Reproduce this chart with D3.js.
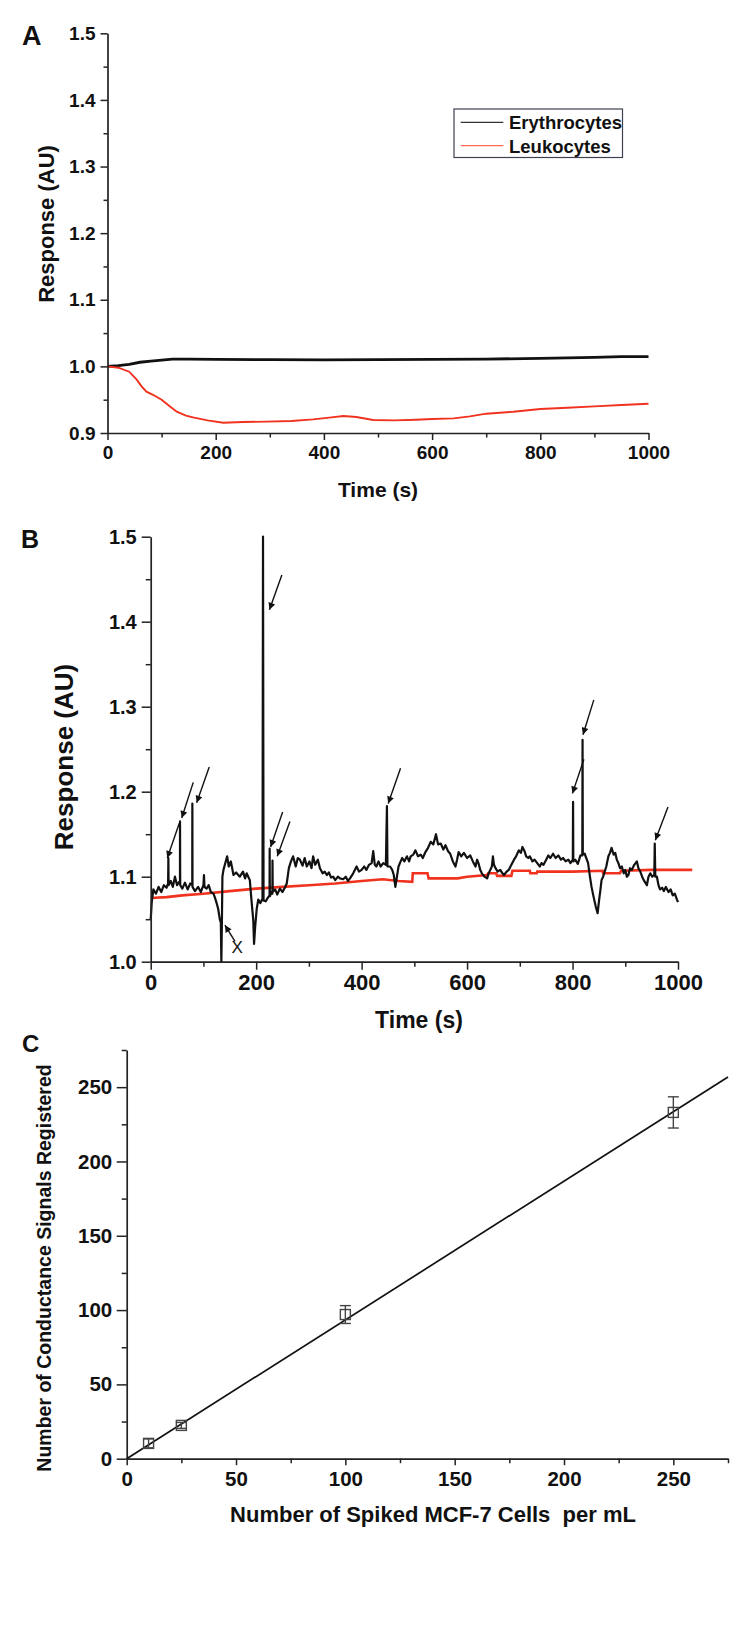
<!DOCTYPE html>
<html>
<head>
<meta charset="utf-8">
<script src="https://cdn.jsdelivr.net/npm/d3@7"></script>
<style>
  html, body { margin: 0; padding: 0; background: #fff; }
  svg { display: block; }
  text { font-family: "Liberation Sans", Arial, Helvetica, sans-serif; font-weight: bold; fill: #111; }
  .axis path.domain { stroke: #222; stroke-width: 1.7; }
  .axis line { stroke: #222; stroke-width: 1.5; }
  .axis text { fill: #111; }
</style>
</head>
<body>
<svg id="fig" width="741" height="1640"></svg>
<script>
// ---------------- Panel A data ----------------
const timeTicksMajor = [0, 200, 400, 600, 800, 1000];
const timeTicksMinor = [100, 300, 500, 700, 900];
const responseTicksA = [0.9, 1.0, 1.1, 1.2, 1.3, 1.4, 1.5];
const responseMinorA = [0.95, 1.05, 1.15, 1.25, 1.35, 1.45];
const legendLabels = ["Erythrocytes", "Leukocytes"];

const erythrocytesA = [
  [0,1.0],[20,1.001],[40,1.003],[60,1.0062],[80,1.008],[100,1.0095],[120,1.011],[150,1.011],
  [200,1.0105],[300,1.0102],[400,1.0098],[500,1.0102],[600,1.0106],[700,1.011],[800,1.012],
  [900,1.0135],[950,1.0145],[1000,1.0145]
];
const leukocytesA = [
  [0,1.0],[20,0.998],[40,0.992],[54,0.98],[63,0.97],[72,0.962],[85,0.957],[100,0.95],[115,0.94],
  [128,0.932],[145,0.926],[160,0.923],[185,0.919],[214,0.9155],[250,0.9165],[294,0.917],[340,0.918],
  [380,0.9205],[410,0.923],[436,0.9255],[460,0.924],[491,0.9195],[530,0.919],[570,0.92],[600,0.921],
  [640,0.922],[670,0.925],[700,0.929],[750,0.932],[800,0.936],[850,0.938],[900,0.94],[950,0.942],[1000,0.944]
];

// ---------------- Panel B data ----------------
const responseTicksB = [1.0, 1.1, 1.2, 1.3, 1.4, 1.5];
const responseMinorB = [1.05, 1.15, 1.25, 1.35, 1.45];
const signalB = [
  [0,1.05],[2,1.07],[5,1.085],[10,1.08],[15,1.088],[20,1.082],[25,1.09],[30,1.087],[33,1.092],[33.5,1.122],[34,1.09],
  [38,1.095],[42,1.088],[46,1.1],[50,1.09],[54,1.094],[55.5,1.092],[55.6,1.165],[56,1.09],[60,1.086],[65,1.093],
  [70,1.085],[75,1.092],[78.8,1.09],[79,1.186],[79.3,1.088],[84,1.083],[90,1.088],[95,1.082],[100,1.09],[101,1.102],
  [102,1.088],[106,1.086],[110,1.09],[114,1.082],[119,1.08],[122,1.075],[125,1.069],[128,1.062],[131,1.05],[133,1.046],
  [134,1.0],[135,1.045],[136,1.1],[138,1.108],[141,1.115],[145,1.124],[148,1.112],[152,1.118],[157,1.102],[162,1.105],
  [169,1.1],[175,1.106],[179,1.098],[182,1.104],[185,1.1],[188,1.096],[191,1.073],[194.5,1.049],[196,1.021],[198,1.04],
  [201,1.062],[204,1.073],[208,1.069],[212,1.074],[213,1.5],[214,1.072],[218,1.071],[222,1.075],[225.4,1.078],[225.6,1.133],
  [226,1.077],[229,1.082],[230.8,1.08],[231,1.119],[231.4,1.082],[236,1.085],[240,1.079],[245,1.086],[250,1.082],[255,1.088],
  [258,1.092],[262,1.11],[266,1.118],[270,1.124],[275,1.112],[279,1.122],[283,1.12],[288,1.113],[292,1.122],[296,1.112],
  [301,1.118],[305,1.11],[308,1.124],[312,1.114],[317,1.12],[321,1.11],[326,1.104],[330,1.106],[334,1.102],[338,1.105],
  [342,1.099],[346,1.1],[350,1.096],[355,1.1],[359,1.098],[365,1.097],[370,1.1],[374,1.095],[378,1.098],[384,1.104],
  [390.5,1.112],[395,1.106],[400,1.108],[405,1.112],[409,1.108],[414,1.114],[419,1.116],[422,1.13],[425,1.114],[428,1.112],
  [432,1.118],[436,1.112],[441,1.116],[446,1.114],[448,1.183],[449,1.112],[454,1.112],[458,1.108],[461,1.102],[464,1.088],
  [467,1.1],[470,1.112],[474,1.118],[477,1.122],[481,1.118],[486,1.124],[490,1.118],[493,1.124],[498,1.126],[502,1.131],
  [507,1.124],[512,1.126],[516,1.122],[521,1.129],[526,1.134],[531,1.141],[536,1.138],[541,1.15],[545,1.138],[550,1.139],
  [555,1.132],[559,1.137],[564,1.13],[568,1.127],[573,1.118],[578,1.112],[581,1.12],[584,1.129],[589,1.124],[594,1.128],
  [600,1.122],[606,1.125],[611,1.118],[616,1.112],[619,1.12],[622,1.115],[625,1.108],[628,1.104],[633,1.1],[638,1.098],
  [641,1.104],[644,1.108],[647,1.112],[649,1.124],[651,1.114],[654,1.11],[658,1.106],[663,1.108],[667,1.104],[670,1.102],
  [675,1.106],[679,1.108],[684,1.114],[689,1.12],[693,1.124],[698,1.131],[702,1.128],[705,1.135],[709,1.13],[712,1.124],
  [716,1.122],[719,1.124],[724,1.118],[728,1.12],[733,1.116],[738,1.112],[741,1.116],[745,1.114],[750,1.12],[754,1.125],
  [758,1.122],[763,1.127],[768,1.122],[773,1.125],[778,1.12],[782,1.122],[787,1.118],[792,1.12],[796,1.116],[800.5,1.12],
  [801,1.188],[801.5,1.118],[805,1.12],[810,1.115],[815,1.125],[818.5,1.125],[819,1.261],[819.5,1.126],[823,1.127],[826,1.122],
  [829.5,1.116],[833,1.1],[836,1.088],[840,1.076],[844,1.065],[847.5,1.057],[850.5,1.073],[853,1.085],[855,1.096],[858,1.1],
  [861,1.106],[864,1.112],[868,1.124],[871,1.128],[874,1.134],[878,1.126],[881,1.128],[884,1.12],[887,1.116],[890,1.11],
  [893.5,1.112],[897,1.104],[900,1.108],[903,1.1],[906,1.102],[909,1.11],[912.5,1.108],[917,1.114],[922,1.118],[925,1.11],
  [928.5,1.106],[932,1.1],[935,1.096],[938,1.093],[941,1.09],[944,1.1],[947.5,1.104],[951,1.1],[955,1.102],[955.9,1.139],
  [957,1.1],[960,1.1],[963,1.09],[966,1.085],[970,1.087],[973,1.083],[977,1.088],[982,1.082],[986,1.085],[990,1.078],
  [994,1.08],[998,1.073],[1000,1.07]
];
const baselineB = [
  [0,1.075],[30,1.076],[60,1.078],[100,1.08],[150,1.083],[200,1.086],[250,1.088],[300,1.09],[350,1.092],[400,1.095],
  [440,1.097],[470,1.095],[496,1.094],[497,1.104],[525,1.104],[527,1.098],[582,1.098],[600,1.1],[638,1.102],[640,1.104],
  [655,1.104],[657,1.101],[684,1.101],[686,1.107],[719,1.107],[720,1.104],[732,1.104],[733,1.106],[800,1.106],[857,1.107],
  [858,1.104],[890,1.104],[892,1.107],[950,1.108],[1027,1.108]
];
// arrows: [tailTime, tailResp, tipTime, tipResp]
const arrowsB = [
  [54.2,1.163,31.5,1.122],[80.7,1.211,58.8,1.169],[111,1.229,87.2,1.187],
  [248.7,1.455,225.2,1.414],[250.2,1.176,227.4,1.135],[264,1.165,240,1.124],
  [473.8,1.2275,450.4,1.186],[821.5,1.238,799.8,1.198],[840.3,1.308,819.8,1.267],
  [981,1.182,957,1.143],[159.8,1.024,140.8,1.043]
];
const crossB = [164, 1.0167];

// ---------------- Panel C data ----------------
const spikedCells = [10, 25, 100, 250];
const signalsRegistered = [10.3, 22.4, 97, 233];
const signalErrors = [3, 2, 6, 10.5];
const fitSlope = 0.934;
const fitRange = [0, 275];
const countTicksMajor = [0, 50, 100, 150, 200, 250];
const countTicksMinor = [25, 75, 125, 175, 225, 275];

// ---------------- drawing ----------------
const svg = d3.select("#fig");
const FONT = '"Liberation Sans", Arial, Helvetica, sans-serif';

function drawAxes(g, x, y, o) {
  g.append("g").attr("class","axis").attr("transform",`translate(0,${y.range()[0]})`)
    .call(d3.axisBottom(x).tickValues(o.xMinor).tickSize(o.xMinorLen).tickSizeOuter(0).tickFormat(""))
    .select(".domain").remove();
  g.append("g").attr("class","axis").attr("transform",`translate(${x.range()[0]},0)`)
    .call(d3.axisLeft(y).tickValues(o.yMinor).tickSize(o.yMinorLen).tickSizeOuter(0).tickFormat(""))
    .select(".domain").remove();
  const gx = g.append("g").attr("class","axis").attr("transform",`translate(0,${y.range()[0]})`)
    .call(d3.axisBottom(x).tickValues(o.xMajor).tickSize(o.xLen).tickSizeOuter(0).tickPadding(o.xPad).tickFormat(o.xFmt));
  gx.selectAll("text").style("font-size", o.xFont + "px").style("font-family", FONT).style("font-weight","bold");
  const gy = g.append("g").attr("class","axis").attr("transform",`translate(${x.range()[0]},0)`)
    .call(d3.axisLeft(y).tickValues(o.yMajor).tickSize(o.yLen).tickSizeOuter(0).tickPadding(o.yPad).tickFormat(o.yFmt));
  gy.selectAll("text").style("font-size", o.yFont + "px").style("font-family", FONT).style("font-weight","bold");
}

function label(x, y, txt, size, opts = {}) {
  const t = svg.append("text").attr("x", x).attr("y", y).text(txt)
    .style("font-size", size + "px").attr("text-anchor", opts.anchor || "start");
  if (opts.rotate) t.attr("transform", `rotate(-90 ${x} ${y})`);
  return t;
}

// ===== Panel A =====
const xA = d3.scaleLinear([0, 1000], [107.5, 648.5]);
const yA = d3.scaleLinear([0.9, 1.5], [433, 33.3]);
const gA = svg.append("g");
const lineA = d3.line().x(d => xA(d[0])).y(d => yA(d[1]));
gA.append("path").datum(erythrocytesA).attr("d", lineA).attr("fill","none").attr("stroke","#111").attr("stroke-width",2.8);
gA.append("path").datum(leukocytesA).attr("d", lineA).attr("fill","none").attr("stroke","#f0321e").attr("stroke-width",1.9);
drawAxes(gA, xA, yA, {
  xMajor: timeTicksMajor, xMinor: timeTicksMinor, xLen: 7, xMinorLen: 4.5, xPad: 6, xFmt: d3.format("d"), xFont: 19,
  yMajor: responseTicksA, yMinor: responseMinorA, yLen: 7, yMinorLen: 4, yPad: 5, yFmt: d3.format(".1f"), yFont: 19
});
label(22, 45, "A", 27);
label(378, 497, "Time (s)", 21, {anchor:"middle"});
label(54, 224, "Response (AU)", 22, {anchor:"middle", rotate:true});
const lg = svg.append("g");
lg.append("rect").attr("x",454).attr("y",109).attr("width",168.5).attr("height",48.5)
  .attr("fill","#fff").attr("stroke","#3c4250").attr("stroke-width",1.2);
const legendColors = ["#333", "#ff6a55"];
legendLabels.forEach((name, i) => {
  const ly = [122.3, 145.7][i];
  lg.append("line").attr("x1",460.7).attr("x2",503.3).attr("y1",ly).attr("y2",ly)
    .attr("stroke",legendColors[i]).attr("stroke-width",1.2);
  lg.append("text").attr("x",509).attr("y",ly+7).text(name).style("font-size","18.5px");
});

// ===== Panel B =====
const xB = d3.scaleLinear([0, 1000], [150.7, 678]);
const yB = d3.scaleLinear([1.0, 1.5], [961.7, 536.7]);
const gB = svg.append("g");
const lineB = d3.line().x(d => xB(d[0])).y(d => yB(d[1]));
gB.append("path").datum(baselineB).attr("d", lineB).attr("fill","none").attr("stroke","#f0321e").attr("stroke-width",2.6);
gB.append("path").datum(signalB).attr("d", lineB).attr("fill","none").attr("stroke","#111").attr("stroke-width",2.2)
  .attr("stroke-linejoin","round");
drawAxes(gB, xB, yB, {
  xMajor: timeTicksMajor, xMinor: timeTicksMinor, xLen: 8, xMinorLen: 5, xPad: 5, xFmt: d3.format("d"), xFont: 22,
  yMajor: responseTicksB, yMinor: responseMinorB, yLen: 9, yMinorLen: 5, yPad: 5, yFmt: d3.format(".1f"), yFont: 20
});
svg.append("defs").append("marker").attr("id","arrowhead")
  .attr("viewBox","0 0 10 10").attr("refX",10).attr("refY",5)
  .attr("markerWidth",11).attr("markerHeight",7).attr("markerUnits","userSpaceOnUse")
  .attr("orient","auto")
  .append("path").attr("d","M0,0 L10,5 L0,10 z").attr("fill","#111");
gB.selectAll("line.arrow").data(arrowsB).join("line").attr("class","arrow")
  .attr("x1", d => xB(d[0])).attr("y1", d => yB(d[1]))
  .attr("x2", d => xB(d[2])).attr("y2", d => yB(d[3]))
  .attr("stroke","#111").attr("stroke-width",1.4).attr("marker-end","url(#arrowhead)");
gB.append("text").attr("x", xB(crossB[0])).attr("y", yB(crossB[1]))
  .attr("text-anchor","middle").attr("dominant-baseline","central")
  .style("font-size","17px").style("font-weight","normal").text("X");
label(21, 548, "B", 25);
label(419, 1028, "Time (s)", 23, {anchor:"middle"});
label(73, 757, "Response (AU)", 26, {anchor:"middle", rotate:true});

// ===== Panel C =====
const xC = d3.scaleLinear([0, 275], [126.7, 728]);
const yC = d3.scaleLinear([0, 275], [1458.7, 1050]);
const gC = svg.append("g");
drawAxes(gC, xC, yC, {
  xMajor: countTicksMajor, xMinor: countTicksMinor, xLen: 6.5, xMinorLen: 4.5, xPad: 6, xFmt: d3.format("d"), xFont: 20.5,
  yMajor: countTicksMajor, yMinor: countTicksMinor, yLen: 10, yMinorLen: 5, yPad: 4.5, yFmt: d3.format("d"), yFont: 20.5
});
gC.append("line")
  .attr("x1", xC(fitRange[0])).attr("y1", yC(fitRange[0] * fitSlope))
  .attr("x2", xC(fitRange[1])).attr("y2", yC(fitRange[1] * fitSlope))
  .attr("stroke","#111").attr("stroke-width",1.7);
const pts = spikedCells.map((c, i) => ({x: c, y: signalsRegistered[i], e: signalErrors[i]}));
const eb = gC.selectAll("g.pt").data(pts).join("g").attr("class","pt");
eb.append("line").attr("x1", d => xC(d.x)).attr("x2", d => xC(d.x))
  .attr("y1", d => yC(d.y + d.e)).attr("y2", d => yC(d.y - d.e)).attr("stroke","#444").attr("stroke-width",1.4);
eb.append("line").attr("x1", d => xC(d.x) - 5.5).attr("x2", d => xC(d.x) + 5.5)
  .attr("y1", d => yC(d.y + d.e)).attr("y2", d => yC(d.y + d.e)).attr("stroke","#444").attr("stroke-width",1.4);
eb.append("line").attr("x1", d => xC(d.x) - 5.5).attr("x2", d => xC(d.x) + 5.5)
  .attr("y1", d => yC(d.y - d.e)).attr("y2", d => yC(d.y - d.e)).attr("stroke","#444").attr("stroke-width",1.4);
eb.append("rect").attr("x", d => xC(d.x) - 5).attr("y", d => yC(d.y) - 5).attr("width",10).attr("height",10)
  .attr("fill","none").attr("stroke","#444").attr("stroke-width",1.4);
label(22, 1052, "C", 24);
label(433, 1522, "Number of Spiked MCF-7 Cells  per mL", 22, {anchor:"middle"}).style("white-space","pre");
label(51, 1268, "Number of Conductance Signals Registered", 19.5, {anchor:"middle", rotate:true});
</script>
</body>
</html>
